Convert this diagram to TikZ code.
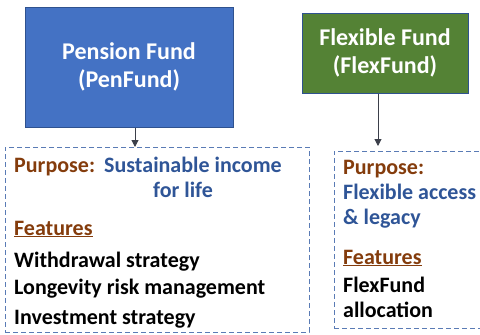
\documentclass[tikz,border=0pt]{standalone}
\usepackage{fontspec}
\setmainfont{Carlito}
\usetikzlibrary{arrows.meta,positioning}
\definecolor{penColor}{HTML}{4472C4}
\definecolor{flexColor}{HTML}{548235}
\definecolor{edgeColor}{HTML}{2F528F}
\definecolor{brownColor}{HTML}{843C0C}
\definecolor{aimColor}{HTML}{2F5597}
\definecolor{dashColor}{HTML}{5A7BB5}
\definecolor{arrowColor}{HTML}{3B3F4A}
\tikzset{fund box/.style={draw=edgeColor, line width=1pt, text=white, align=center,
		font=\fontsize{24}{28}\selectfont\bfseries}}
\tikzset{info box/.style={draw=dashColor, dash pattern=on 5pt off 3pt, line width=1pt}}
\tikzset{info text/.style={anchor=base west, inner sep=0pt, font=\fontsize{22}{25}\selectfont\bfseries}}
\tikzset{down arrow/.style={arrowColor, line width=1pt, -{Triangle[length=7pt,width=7pt]}}}
\newcommand{\purposeLabel}{\textcolor{brownColor}{Purpose:}}
\newcommand{\featuresLabel}{\textcolor{brownColor}{\underline{Features}}}

\begin{document}
\begin{tikzpicture}[x=1pt, y=-1pt]
	\useasboundingbox (0,0) rectangle (480,335);
	% fund boxes
	\node[fund box, fill=penColor, minimum width=208pt, minimum height=120pt] at (129,67) (pen) {Pension Fund\\(PenFund)};
	\node[fund box, fill=flexColor, minimum width=166pt, minimum height=80pt] at (385,53) (flex) {Flexible Fund\\(FlexFund)};
	% dashed info boxes
	\node[info box, minimum width=304pt, minimum height=185pt] at (157,239.5) (penInfo) {};
	\node[info box, minimum width=148pt, minimum height=177pt] at (408,239.5) (flexInfo) {};
	\coordinate (penTip) at (135,147);
	\coordinate (flexTip) at (378,146);
	\draw[down arrow] (pen.south -| penTip) -- (penTip);
	\draw[down arrow] (flex.south -| flexTip) -- (flexTip);
	% pension fund text
	\node[info text] at (14,172) (penPurpose) {\purposeLabel};
	\node[info text] at (104,172) (penAim) {\textcolor{aimColor}{Sustainable income}};
	\node[info text, anchor=base] at (183,197) (penAim2) {\textcolor{aimColor}{for life}};
	\node[info text] at (14,235) (penFeat) {\featuresLabel};
	\node[info text] at (14,267) (penF1) {Withdrawal strategy};
	\node[info text] at (14,294) (penF2) {Longevity risk management};
	\node[info text] at (14,324) (penF3) {Investment strategy};
	% flexible fund text
	\node[info text] at (343,174) (flexPurpose) {\purposeLabel};
	\node[info text] at (343,199) (flexAim) {\textcolor{aimColor}{Flexible access}};
	\node[info text] at (343,224) (flexAim2) {\textcolor{aimColor}{\& legacy}};
	\node[info text] at (343,264) (flexFeat) {\featuresLabel};
	\node[info text] at (343,292) (flexF1) {FlexFund};
	\node[info text] at (343,317) (flexF2) {allocation};
\end{tikzpicture}
\end{document}
